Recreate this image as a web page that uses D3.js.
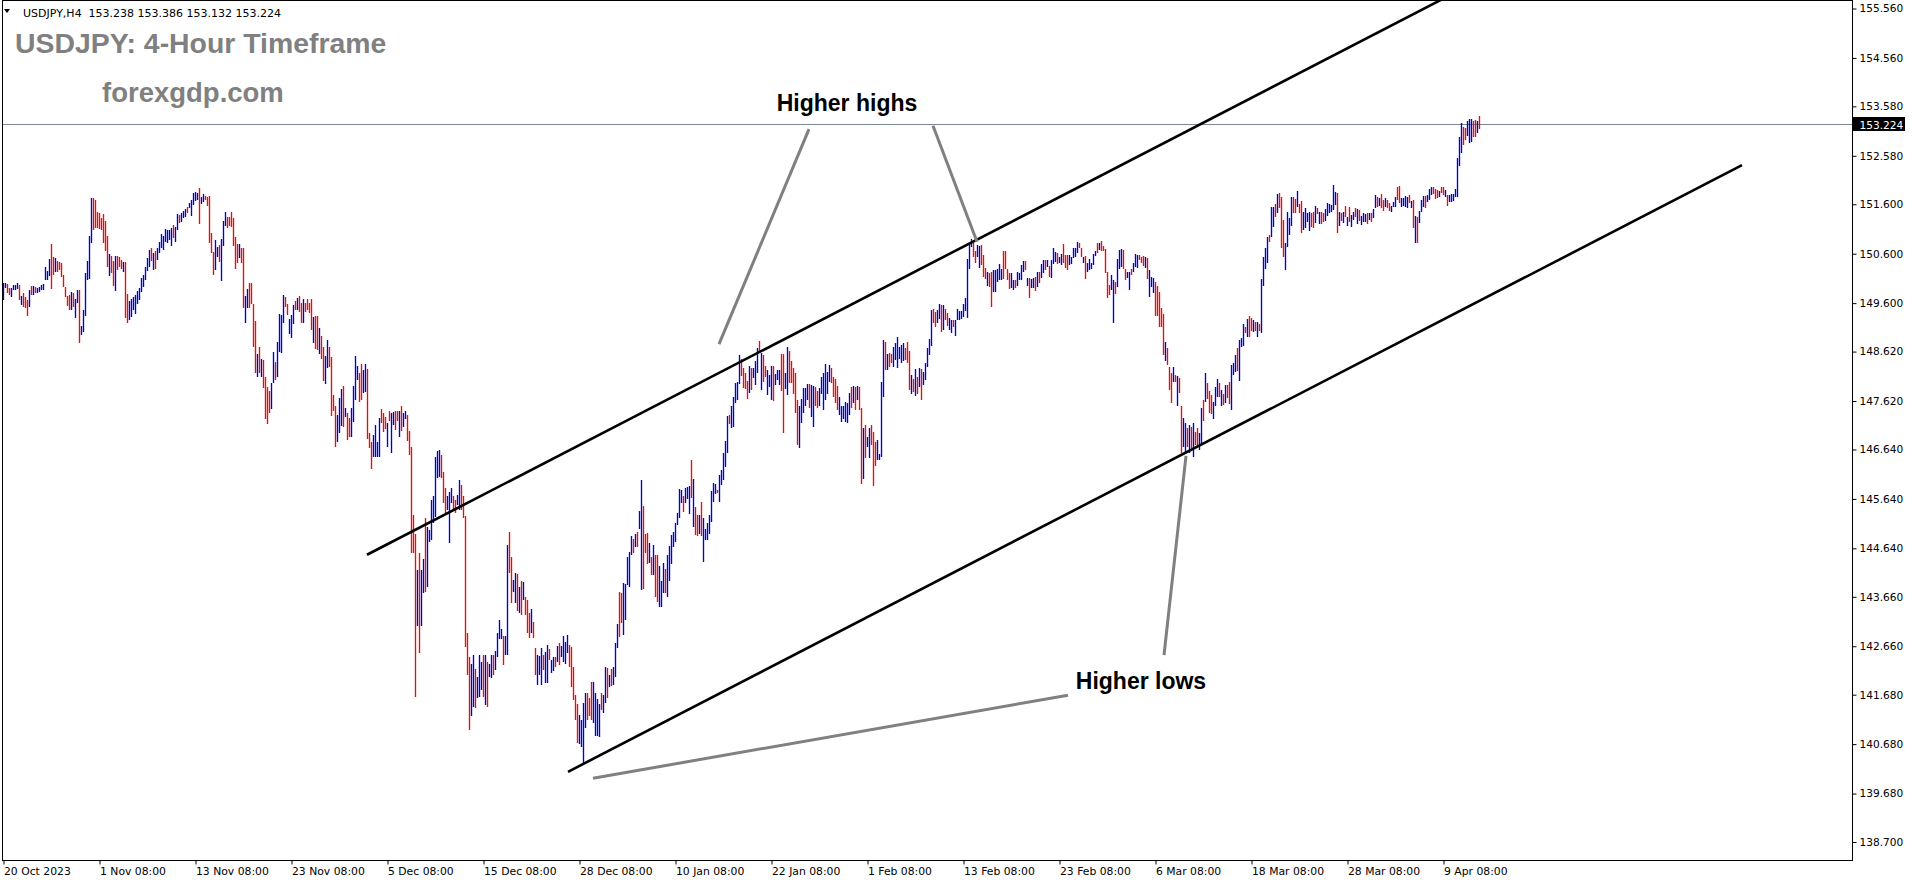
<!DOCTYPE html>
<html><head><meta charset="utf-8">
<script src="https://cdn.jsdelivr.net/npm/d3@7/dist/d3.min.js"></script>
<style>html,body{margin:0;padding:0;background:#fff;overflow:hidden}</style>
</head><body>
<svg id="c" width="1916" height="884"></svg>
<script>
// ---------------- DATA ----------------
const symbolInfo = "USDJPY,H4  153.238 153.386 153.132 153.224";
const titleText = "USDJPY: 4-Hour Timeframe";
const siteText = "forexgdp.com";
const lastPrice = 153.224;

// H4 bar highs (bar 0 = 20 Oct 2023 08:00 ... bar 738 = 12 Apr 2024)
const highs = [
150.00,150.00,149.99,149.90,149.90,149.97,149.97,150.00,149.96,149.74,
149.80,149.73,149.66,149.87,149.95,149.95,149.93,149.90,149.93,149.97,
149.99,150.34,150.26,150.49,150.80,150.54,150.51,150.46,150.44,150.41,
150.17,149.93,149.74,149.76,149.83,149.81,149.68,149.87,149.87,149.14,
149.46,150.20,150.45,150.96,151.73,151.73,151.69,151.44,151.42,151.32,
151.40,151.26,150.96,150.59,150.55,150.46,150.55,150.55,150.53,150.47,
150.44,150.43,149.78,149.65,149.68,149.73,149.76,149.85,149.90,150.10,
150.17,150.34,150.51,150.67,150.71,150.62,150.66,150.71,150.84,151.00,
150.96,151.09,151.07,151.07,151.11,151.18,151.15,151.40,151.38,151.43,
151.47,151.50,151.55,151.62,151.69,151.82,151.85,151.83,151.93,151.74,
151.81,151.77,151.75,151.77,151.01,150.63,150.88,150.73,150.77,150.89,
151.27,151.44,151.34,151.35,151.44,151.32,150.93,150.80,150.80,150.71,
150.72,149.74,149.88,150.00,150.00,149.58,149.23,148.58,148.71,148.46,
148.44,148.10,147.91,147.83,147.98,148.61,148.40,148.82,149.38,149.36,
149.77,149.73,149.58,149.27,149.37,149.56,149.65,149.70,149.74,149.61,
149.69,149.60,149.69,149.60,149.69,149.31,149.34,149.34,149.10,148.94,
148.72,148.53,148.85,148.72,148.52,147.74,147.51,147.34,147.69,147.86,
147.92,147.47,147.37,147.27,147.47,147.92,148.53,148.33,148.19,148.37,
148.25,148.37,148.27,146.97,146.80,146.93,147.13,146.80,147.27,147.45,
147.38,147.30,147.18,147.42,147.38,147.40,147.42,147.42,147.42,147.52,
147.38,147.42,147.33,147.02,146.70,145.31,144.94,144.20,144.54,144.20,
144.42,145.25,145.08,145.01,145.62,145.69,146.49,146.60,146.62,146.53,
146.19,145.86,145.69,145.77,145.87,145.70,145.62,145.72,146.02,145.92,
145.69,145.29,142.93,142.45,142.31,142.48,142.19,142.04,142.48,142.35,
142.48,142.48,142.35,142.31,142.48,142.48,142.57,142.92,143.19,143.00,
142.87,142.87,144.71,144.98,144.47,144.00,144.14,144.12,143.85,143.97,
143.95,143.66,143.60,143.33,143.41,143.16,142.62,142.48,142.46,142.62,
142.48,142.55,142.68,142.60,142.39,142.45,142.45,142.66,142.73,142.66,
142.87,142.75,142.89,142.69,142.65,142.25,141.67,141.49,141.27,141.17,
141.52,141.71,141.71,141.61,141.94,141.94,141.71,141.59,141.49,141.71,
141.67,142.25,142.21,142.08,142.19,142.25,142.72,143.11,143.76,143.74,
143.93,143.92,144.47,144.57,144.89,144.82,144.94,144.98,145.40,146.02,
145.50,144.94,144.96,144.74,144.47,144.71,144.51,144.51,144.28,143.97,
144.34,144.22,144.51,144.69,144.91,144.98,145.16,145.36,145.85,145.83,
145.69,145.87,145.89,145.90,146.43,146.04,145.47,145.31,145.31,145.58,
145.25,145.04,145.16,145.31,145.79,145.96,145.94,145.82,146.12,
146.23,146.56,146.82,147.32,147.34,147.51,147.71,147.99,148.01,148.55,148.46,
148.28,148.19,148.03,148.33,148.28,148.28,148.42,148.70,148.83,148.60,
148.55,148.33,148.25,148.15,148.33,148.32,148.17,148.25,148.25,148.57,
148.58,148.19,148.72,148.64,148.42,148.28,148.19,147.65,147.51,147.67,
147.88,147.88,147.96,147.96,147.94,147.92,147.90,147.83,147.88,148.11,
148.19,148.37,148.21,148.35,148.28,148.11,148.06,147.92,147.71,147.51,
147.52,147.61,147.59,147.79,147.90,147.92,147.90,147.92,147.91,147.47,
147.07,147.13,146.90,147.07,147.13,147.00,146.80,146.83,146.55,148.01,
148.85,148.82,148.58,148.60,148.58,148.72,148.80,148.92,148.72,148.75,
148.79,148.69,148.82,148.64,148.15,148.06,148.26,148.11,148.28,148.26,
148.21,148.39,148.69,148.87,149.47,149.49,149.43,149.46,149.58,149.56,
149.56,149.49,149.41,149.29,149.26,149.25,149.25,149.49,149.45,149.45,
149.59,149.70,150.49,150.81,150.89,150.82,150.66,150.78,150.76,150.78,
150.57,150.32,150.24,150.20,150.22,150.27,150.27,150.30,150.40,150.30,
150.66,150.66,150.30,150.20,150.20,150.07,150.07,150.22,150.20,150.37,
150.46,150.46,150.10,150.10,150.08,150.10,150.13,150.22,150.22,150.40,
150.47,150.47,150.47,150.35,150.47,150.71,150.64,150.61,150.53,150.59,
150.80,150.57,150.57,150.57,150.53,150.71,150.71,150.84,150.82,150.71,
150.54,150.55,150.42,150.49,150.42,150.59,150.66,150.82,150.81,150.86,
150.76,150.69,150.24,149.97,150.17,150.07,150.03,150.49,150.67,150.69,
150.67,150.30,150.24,150.24,150.30,150.42,150.59,150.57,150.57,150.53,
150.55,150.54,150.51,150.27,150.12,150.10,150.03,149.95,149.83,149.50,
149.39,148.82,148.69,148.31,148.18,148.31,148.15,148.13,148.08,
147.52,147.27,147.18,147.07,147.13,147.10,147.18,147.00,147.07,146.98,
147.47,147.64,148.18,147.99,147.83,147.74,147.61,147.90,148.06,147.98,
147.84,147.77,147.94,147.94,148.01,148.35,148.38,148.55,148.69,148.85,
148.89,149.18,149.12,149.27,149.33,149.29,149.26,149.22,149.22,149.18,
150.08,150.54,150.71,150.94,150.98,151.55,151.54,151.61,151.81,151.82,
151.74,151.28,150.81,151.45,151.33,151.75,151.74,151.71,151.87,151.61,
151.67,151.45,151.52,151.42,151.45,151.42,151.45,151.56,151.52,151.45,
151.45,151.43,151.50,151.63,151.61,151.58,151.99,151.85,151.83,151.45,
151.43,151.45,151.56,151.35,151.54,151.38,151.45,151.52,151.50,151.48,
151.36,151.42,151.40,151.43,151.43,151.43,151.50,151.79,151.74,151.72,
151.81,151.69,151.72,151.69,151.63,151.56,151.65,151.75,151.94,151.97,
151.72,151.72,151.77,151.75,151.79,151.67,151.69,151.36,151.35,151.47,
151.69,151.77,151.77,151.79,151.90,151.94,151.94,151.90,151.89,151.87,
151.94,151.94,151.89,151.79,151.79,151.81,151.81,151.90,152.53,152.97,
153.25,153.17,153.14,153.29,153.32,153.32,153.29,153.30,153.29,153.39
];

// H4 bar lows
const lows = [
149.66,149.90,149.80,149.76,149.72,149.87,149.87,149.88,149.66,149.57,
149.53,149.50,149.33,149.53,149.76,149.76,149.80,149.81,149.83,149.87,
149.87,150.07,150.06,150.15,149.89,150.17,150.24,150.24,150.27,150.12,
149.93,149.73,149.54,149.46,149.46,149.52,149.29,149.60,148.80,148.96,
149.02,149.33,150.07,150.08,150.82,151.07,151.13,151.13,151.09,151.08,
150.81,150.65,150.34,150.15,150.20,149.95,149.85,150.28,150.34,150.30,
150.24,149.29,149.20,149.25,149.31,149.46,149.39,149.58,149.66,149.83,
149.93,150.07,150.26,150.34,150.46,150.28,150.30,150.47,150.61,150.71,
150.67,150.84,150.82,150.88,150.76,150.91,150.83,151.07,151.23,151.25,
151.32,151.35,151.42,151.52,151.36,151.59,151.67,151.69,151.21,151.61,
151.65,151.69,151.57,150.81,150.61,150.16,150.27,150.53,150.44,150.05,
150.76,151.16,151.13,151.16,151.15,150.76,150.30,150.41,150.51,150.42,
149.51,149.20,149.50,149.50,149.58,148.71,148.19,148.11,148.18,148.11,
147.88,147.25,147.15,147.37,147.45,147.98,148.05,148.10,148.62,148.60,
149.20,149.53,149.36,148.98,148.89,149.18,149.46,149.46,149.43,149.20,
149.20,149.43,149.46,149.41,149.06,148.79,148.67,148.65,148.58,148.48,
148.03,147.96,148.28,148.31,147.32,147.42,146.68,146.80,146.97,147.11,
147.09,147.29,146.84,146.90,146.89,147.20,147.64,148.05,147.61,147.65,
147.78,147.81,146.85,146.66,146.24,146.48,146.49,146.48,146.48,147.17,
147.00,147.05,146.68,147.22,146.56,147.13,147.03,147.22,146.90,147.02,
147.09,147.25,146.82,146.53,144.54,144.54,141.64,143.06,142.52,143.06,
143.73,143.76,143.86,144.77,144.81,145.15,145.28,146.06,146.08,146.06,
145.55,145.35,145.42,144.74,145.55,145.42,145.35,145.52,145.42,145.42,
145.25,142.64,142.08,140.97,141.24,141.44,141.42,141.61,141.64,141.77,
141.64,141.47,141.44,142.04,142.01,142.08,142.18,142.45,142.80,142.80,
142.28,142.48,142.48,144.15,143.54,143.76,143.53,143.38,143.33,143.29,
143.60,143.29,142.93,142.82,142.93,142.82,142.08,141.88,142.08,141.88,
142.18,141.91,141.91,142.39,142.11,142.15,142.25,142.35,142.28,142.45,
142.35,142.31,142.52,142.25,141.84,141.57,141.17,140.70,140.68,140.63,
140.28,141.00,141.17,141.25,141.17,141.10,140.84,140.84,140.83,141.37,
141.30,141.52,141.61,141.84,141.86,141.88,142.04,142.62,142.85,143.14,
142.89,143.19,143.90,143.86,144.51,144.54,144.67,144.67,145.04,143.80,
143.81,144.54,144.32,144.34,144.10,144.10,143.66,143.56,143.46,143.46,
143.73,143.74,143.66,143.97,144.32,144.67,144.77,145.11,145.25,145.55,
145.38,145.55,145.63,145.33,145.65,145.08,144.91,144.88,144.94,144.88,
144.37,144.81,144.81,144.94,145.18,145.58,145.74,145.75,145.58,
145.92,146.02,146.29,146.56,147.16,147.07,147.10,147.57,147.64,147.96,148.13,
147.88,147.86,147.67,147.78,147.84,148.08,147.94,148.18,148.59,147.84,
148.01,148.10,147.74,147.90,147.64,147.63,147.94,148.05,147.94,147.83,
146.98,147.86,147.74,147.98,147.99,147.77,147.38,146.73,146.66,147.17,
147.37,147.51,147.65,147.47,147.29,147.09,147.52,147.47,147.51,147.77,
147.44,147.65,147.77,148.01,147.98,147.71,147.59,147.44,147.34,147.20,
147.25,147.20,147.17,147.34,147.47,147.59,147.44,147.64,147.44,145.95,
146.05,146.46,146.70,146.46,146.73,145.90,146.30,146.43,146.43,146.49,
147.70,148.25,148.25,148.31,148.38,148.31,148.45,148.28,148.48,148.39,
148.42,148.45,148.39,147.84,147.77,147.81,147.72,147.77,147.91,147.65,
147.94,148.05,148.31,148.55,148.73,149.20,149.12,149.20,149.27,149.02,
149.06,149.26,149.14,149.06,148.99,149.11,148.93,149.25,149.26,149.27,
149.31,149.45,149.29,150.30,150.74,150.53,150.42,150.53,150.32,150.37,
150.13,150.08,149.95,149.92,149.53,149.83,149.83,150.03,150.07,150.07,
150.08,150.30,150.07,149.88,149.90,149.87,149.90,149.95,150.07,150.07,
150.24,150.27,149.95,149.70,149.90,149.90,149.85,149.92,150.00,150.10,
150.20,150.27,150.34,150.13,150.10,150.40,150.44,150.40,150.42,150.37,
150.42,150.32,150.27,150.37,150.39,150.51,150.53,150.62,150.71,150.53,
150.42,150.08,150.24,150.28,150.30,150.37,150.55,150.61,150.67,150.66,
150.66,150.20,149.70,149.76,149.87,149.20,149.78,149.93,150.30,150.34,
150.30,150.07,150.10,149.87,150.17,150.24,150.34,150.32,150.47,150.42,
150.35,150.32,150.08,149.72,149.93,149.80,149.33,149.33,149.12,149.11,
148.55,148.42,148.35,147.84,147.59,148.01,148.01,147.52,147.79,
146.56,146.70,146.56,146.70,146.56,146.66,146.49,146.73,146.70,146.63,
146.76,147.22,147.61,147.67,147.37,147.36,147.25,147.51,147.71,147.71,
147.52,147.54,147.57,147.69,147.56,147.44,148.15,148.21,148.23,148.03,
148.72,148.73,148.99,148.92,148.92,149.04,149.02,149.04,148.92,149.04,
149.00,149.95,150.30,150.41,150.84,150.94,151.15,151.35,151.43,151.52,
150.71,150.54,150.27,150.74,150.98,151.16,151.42,151.43,151.54,151.43,
151.01,151.08,151.13,151.25,151.05,151.15,151.13,151.23,151.40,151.20,
151.21,151.25,151.27,151.36,151.43,151.45,151.48,151.58,151.02,151.16,
151.27,151.23,151.34,151.16,151.25,151.15,151.28,151.35,151.20,151.27,
151.18,151.25,151.25,151.21,151.28,151.25,151.32,151.52,151.55,151.56,
151.52,151.47,151.55,151.52,151.47,151.45,151.55,151.54,151.69,151.62,
151.55,151.56,151.55,151.52,151.63,151.52,151.13,150.82,150.82,151.23,
151.45,151.55,151.52,151.65,151.69,151.79,151.81,151.70,151.72,151.75,
151.82,151.79,151.75,151.56,151.65,151.65,151.67,151.75,151.75,152.37,
152.64,152.80,152.90,152.98,152.83,152.85,152.97,152.97,153.04,153.13
];

// bar direction: u = bullish (close > open), d = bearish
const barDirection =
"uuddu uuudu dddud uduuu uuuud duddd ddddu duudu uuuuu ddddd " +
"dddud duddd udduu uuuuu uuuud uduuu uuuuu duudu uuduu uuudu " +
"udddd duudu uuddd dddud duudd ddudu ddddu uduuu udduu ududd " +
"udddd uddud duudd dduuu duddu uuudd uuddd uuuud ddudu uddud " +
"uuddd ddudu uduuu uuuud dduuu dduud ddddu uduuu duduu duuuu " +
"duudd uudud udddu dduuu duudu ududu uuudd ddduu uuddd uuuud " +
"uudud uuudd uuuuu duduu dddud udduu uduuu uuuuu duuud uddud " +
"uuuuu uudu " +
"uuuud uuuuu d " +
"dddud uuudu dduuu duuud duudd ddduu uuudu udduu uuuud ddduu " +
"uuuud ududd uduud dduuu ududd uuuuu udddu dudud uuuuu dduud " +
"udduu duuuu uuuuu dduud ddudd uuuuu ddddu uduuu ududu ududu " +
"ududu uuduu ddduu uuudd uduuu uudud ddddu uduuu dduud uuudd " +
"duduu udddd " +
"duddd udud " +
"duudu duddu ududd duuud ududd uuudu uudud dudud uuuud uudud " +
"dduuu uddud duuuu ddudu dduuu uuudu dudud uudud uuudu duudu " +
"ddudd uuudd uuuud ududu uuduu udddu ddudu uuuuu udduu uddud";

// price axis ticks (as printed by the terminal)
const priceTicks = [155.560,154.560,153.580,152.580,151.600,150.600,149.600,148.620,147.620,
                    146.640,145.640,144.640,143.660,142.660,141.680,140.680,139.680,138.700];
// time axis: bar index of each label and its text
const timeTickIndex = [0,48,96,144,192,240,288,336,384,432,480,528,576,624,672,720];
const timeTickLabels = ["20 Oct 2023","1 Nov 08:00","13 Nov 08:00","23 Nov 08:00","5 Dec 08:00",
  "15 Dec 08:00","28 Dec 08:00","10 Jan 08:00","22 Jan 08:00","1 Feb 08:00","13 Feb 08:00",
  "23 Feb 08:00","6 Mar 08:00","18 Mar 08:00","28 Mar 08:00","9 Apr 08:00"];

// channel trend lines [barIndex, price]
const channelUpper = [[181.75,144.51],[768.75,156.78]];
const channelLower = [[282.25,140.12],[869.25,152.39]];
// annotation pointer lines [barIndex, price]
const pointerHH1 = [[402.75,153.12],[357.75,148.77]];
const pointerHH2 = [[464.75,153.19],[486.75,150.84]];
const pointerHL1 = [[591.25,146.51],[580.25,142.48]];
const pointerHL2 = [[532.25,141.67],[294.75,139.99]];
// annotation labels [text, barIndex (centre), price (baseline)]
const noteLabels = [["Higher highs",421.75,153.49],["Higher lows",568.75,141.80]];

// ---------------- CHART ----------------
const plot = {left:2.5, right:1852.5, top:0.5, bottom:860.5};
const x = d3.scaleLinear().domain([0,738]).range([3.5,1479.5]);
const y = d3.scaleLinear().domain([138.70,155.56]).range([842,8.5]);
const BLUE = "#0000dd", RED = "#ee0a0a";

const svg = d3.select("#c");
svg.append("rect").attr("width",1916).attr("height",884).attr("fill","#fff");
svg.append("defs").append("clipPath").attr("id","clip").append("rect")
  .attr("x",plot.left).attr("y",plot.top)
  .attr("width",plot.right-plot.left).attr("height",plot.bottom-plot.top);

const g = svg.append("g").attr("clip-path","url(#clip)");

// last price line
const yLast = Math.round(y(lastPrice)) + 0.5;
g.append("line").attr("x1",plot.left).attr("x2",plot.right)
  .attr("y1",yLast).attr("y2",yLast)
  .attr("stroke","#778899").attr("stroke-width",1).attr("shape-rendering","crispEdges");

// bars
const dirs = barDirection.replace(/\s+/g,"");
const n = Math.min(highs.length, lows.length, dirs.length);
const bars = d3.range(n).map(i => ({i, hi:Math.max(highs[i],lows[i]), lo:Math.min(highs[i],lows[i]), up:dirs[i]==="u"}));
g.append("g").selectAll("line").data(bars).join("line")
  .attr("x1",d=>x(d.i)).attr("x2",d=>x(d.i))
  .attr("y1",d=>Math.round(y(d.hi)))
  .attr("y2",d=>Math.max(Math.round(y(d.lo)), Math.round(y(d.hi))+2))
  .attr("stroke",d=>d.up?BLUE:RED).attr("stroke-width",1.35);

// trend lines
const lineGen = d3.line().x(d=>x(d[0])).y(d=>y(d[1]));
[channelUpper, channelLower].forEach(pts => {
  g.append("path").attr("d",lineGen(pts)).attr("fill","none")
    .attr("stroke","#000").attr("stroke-width",2.6);
});
[pointerHH1, pointerHH2, pointerHL1, pointerHL2].forEach(pts => {
  g.append("path").attr("d",lineGen(pts)).attr("fill","none")
    .attr("stroke","#808080").attr("stroke-width",3);
});
noteLabels.forEach(([t,i,p]) => {
  g.append("text").attr("x",x(i)).attr("y",y(p)).attr("text-anchor","middle")
    .attr("font-family","'Liberation Sans', Arial, sans-serif").attr("font-weight","bold")
    .attr("font-size",23).attr("fill","#000").text(t);
});

// frame
svg.append("rect").attr("x",plot.left).attr("y",plot.top)
  .attr("width",plot.right-plot.left).attr("height",plot.bottom-plot.top)
  .attr("fill","none").attr("stroke","#000").attr("stroke-width",1)
  .attr("shape-rendering","crispEdges");

// price axis
const axR = svg.append("g").attr("transform",`translate(${plot.right},0)`)
  .call(d3.axisRight(y).tickValues(priceTicks).tickFormat(d3.format(".3f")).tickSize(4).tickSizeOuter(0).tickPadding(3));
axR.select(".domain").remove();
axR.selectAll("text").attr("font-family","'DejaVu Sans', sans-serif").attr("font-size","10.6px").attr("fill","#000");
axR.selectAll("line").attr("stroke","#000");

// time axis
const axB = svg.append("g").attr("transform",`translate(0,${plot.bottom})`)
  .call(d3.axisBottom(x).tickValues(timeTickIndex).tickFormat((d,k)=>timeTickLabels[k]).tickSize(4).tickSizeOuter(0).tickPadding(3));
axB.select(".domain").remove();
axB.selectAll("text").attr("text-anchor","start").attr("font-family","'DejaVu Sans', sans-serif")
  .attr("font-size","10.8px").attr("fill","#000");
axB.selectAll("line").attr("stroke","#000");

// current price tag
svg.append("rect").attr("x",plot.right+0.5).attr("y",yLast-7.5).attr("width",52).attr("height",14).attr("fill","#000");
svg.append("text").attr("x",plot.right+7).attr("y",yLast+4).attr("fill","#fff")
  .attr("font-family","'DejaVu Sans', sans-serif").attr("font-size","10.6px").text(d3.format(".3f")(lastPrice));

// header
svg.append("path").attr("d","M4,9 L10,9 L7,13 Z").attr("fill","#000");
svg.append("text").attr("x",23).attr("y",17).attr("font-family","'DejaVu Sans', sans-serif")
  .attr("font-size","11px").attr("fill","#000").style("white-space","pre").text(symbolInfo);

// title & site
svg.append("text").attr("x",15).attr("y",53).attr("font-family","'Liberation Sans', Arial, sans-serif")
  .attr("font-weight","bold").attr("font-size",28.4).attr("fill","#808080").text(titleText);
svg.append("text").attr("x",102).attr("y",101.5).attr("font-family","'Liberation Sans', Arial, sans-serif")
  .attr("font-weight","bold").attr("font-size",27.5).attr("fill","#808080").text(siteText);
</script>
</body></html>
